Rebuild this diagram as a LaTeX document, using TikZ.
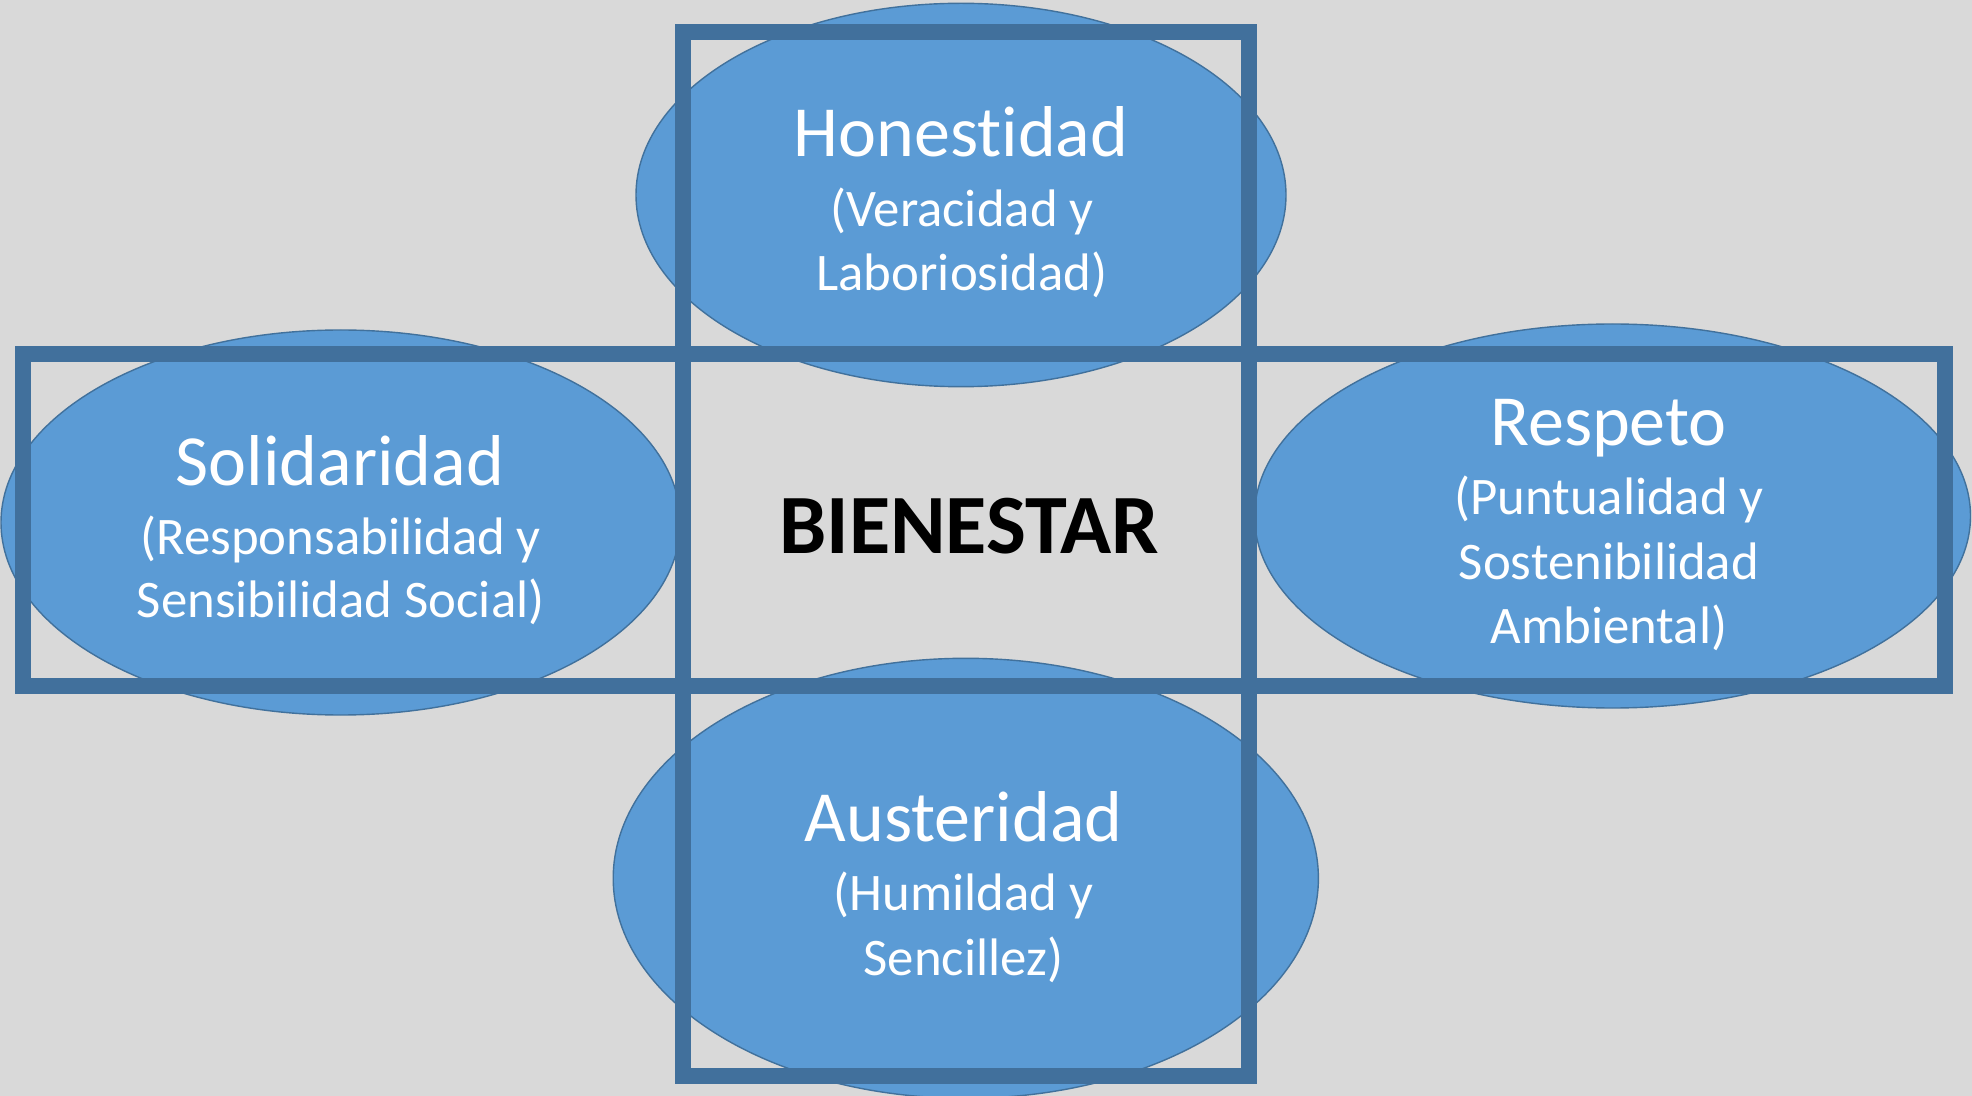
\documentclass[tikz,border=0pt]{standalone}
\usepackage{fontspec}
\setmainfont[RawFeature={-liga;-clig}]{Carlito}
\usetikzlibrary{shapes.geometric}
\definecolor{bgc}{HTML}{D9D9D9}
\definecolor{ellfill}{HTML}{5B9BD5}
\definecolor{elldraw}{HTML}{41719C}
\definecolor{rectc}{HTML}{41709C}
\tikzset{
  oval/.style={ellipse, fill=ellfill, draw=elldraw, line width=0.7pt, inner sep=0pt},
  frame/.style={draw=rectc, line width=8pt, line join=miter},
  headtxt/.style={text=white, inner sep=0pt, anchor=base, font=\fontsize{36}{43}\selectfont},
  subtxt/.style={text=white, inner sep=0pt, anchor=base, font=\fontsize{26.4}{32}\selectfont},
  centtxt/.style={text=black, inner sep=0pt, anchor=base, font=\bfseries\fontsize{42.2}{50}\selectfont}
}
\begin{document}
\begin{tikzpicture}[x=0.5pt,y=-0.5pt]
\useasboundingbox (0,0) rectangle (1972,1096);
\fill[bgc] (0,0) rectangle (1972,1096);
\begin{scope}
\clip (0,0) rectangle (1972,1096);
% ellipses
\node[oval, minimum width=325pt, minimum height=191.7pt] (eTop) at (961,195) {};
\node[oval, minimum width=339.7pt, minimum height=192.5pt] (eLeft) at (340.7,522.5) {};
\node[oval, minimum width=358pt, minimum height=192pt] (eRight) at (1612.5,516) {};
\node[oval, minimum width=352.6pt, minimum height=220pt] (eBot) at (965.8,878.3) {};
% frames
\draw[frame] (682.7,32) rectangle (1249,1075.7);
\draw[frame] (23.2,353.9) rectangle (1945,685.9);
\end{scope}
% texts
\node[headtxt] (tHon) at (961,156.7) {Honestidad};
\node[subtxt] (tHon1) at (962,226.7) {(Veracidad y};
\node[subtxt] (tHon2) at (962,290.7) {Laboriosidad)};
\node[headtxt] (tSol) at (340,485.7) {Solidaridad};
\node[subtxt] (tSol1) at (340.8,555) {(Responsabilidad y};
\node[subtxt] (tSol2) at (340.8,617.7) {Sensibilidad Social)};
\node[headtxt] (tRes) at (1608.5,445.7) {Respeto};
\node[subtxt] (tRes1) at (1609,515) {(Puntualidad y};
\node[subtxt] (tRes2) at (1609,579.3) {Sostenibilidad};
\node[subtxt] (tRes3) at (1609,643.3) {Ambiental)};
\node[headtxt] (tAus) at (963.4,841.7) {Austeridad};
\node[subtxt] (tAus1) at (963.4,910) {(Humildad y};
\node[subtxt] (tAus2) at (963.4,975) {Sencillez)};
\node[centtxt] (tBien) at (969.2,553.3) {BIENESTAR};
\end{tikzpicture}
\end{document}
